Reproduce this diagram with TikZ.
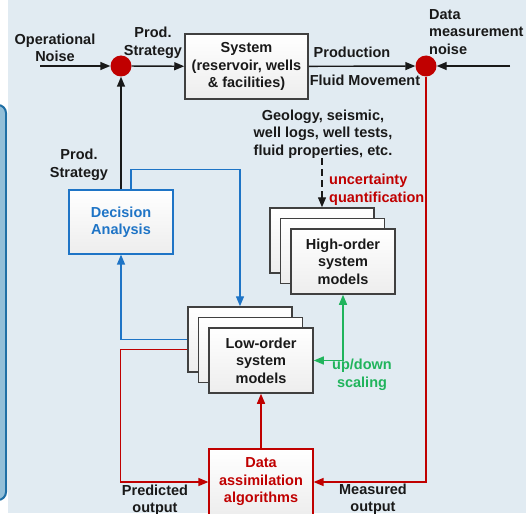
\documentclass[tikz,border=0pt]{standalone}
\usepackage{fontspec}
\setmainfont{Liberation Sans}
\usetikzlibrary{arrows.meta}
\definecolor{bgblue}{HTML}{E1EBF2}
\definecolor{barfill}{HTML}{93BFD8}
\definecolor{bardraw}{HTML}{1F6FA5}
\definecolor{dotred}{HTML}{C00000}
\definecolor{dablue}{HTML}{1E74C6}
\definecolor{scgreen}{HTML}{20B45C}
\definecolor{boxgray}{HTML}{404040}

\begin{document}
\begin{tikzpicture}[x=1pt,y=-1pt,
  txt/.style={font=\fontsize{14.5}{17.5}\selectfont\bfseries,align=center,inner sep=0pt,text=black!90},
  box/.style={txt,draw=boxgray,line width=1.5pt,top color=white,bottom color=gray!14,minimum width=104pt,minimum height=65pt},
  sum/.style={circle,fill=dotred,minimum size=21pt,inner sep=0pt},
  tip/.style={-{Triangle[length=10pt,width=8pt]}},
  bk/.style={tip,line width=1.4pt,black!90},
  bl/.style={tip,line width=1.4pt,dablue},
  rd/.style={tip,line width=1.4pt,dotred}]
\useasboundingbox (0,0) rectangle (526,513);
% background
\fill[white] (0,0) rectangle (526,513);
\fill[bgblue] (8,0) rectangle (526,513);
\filldraw[fill=barfill,draw=bardraw,line width=2pt,rounded corners=8pt] (-12,105) rectangle (6,500);
% top row
\node[txt] (opn) at (55,48) {Operational\\Noise};
\coordinate (opin) at (40,66);
\node[sum] (s1) at (121,66) {};
\node[txt] (ps1) at (153,43) {Prod.\\Strategy};
\node[box,minimum width=123pt] (sys) at (246.5,66.5) {System\\(reservoir, wells\\\& facilities)};
\node[sum] (s2) at (426,66) {};
\node[txt] (prod) at (352,52) {Production};
\node[txt] (flu) at (365,80) {Fluid Movement};
\node[txt,align=left,anchor=west] (dmn) at (429,32) {Data\\measurement\\noise};
\coordinate (dmin) at (510,66);
\draw[bk] (opin) -- (s1);
\draw[bk] (s1) -- (sys);
\draw[bk] (sys) -- (s2);
\draw[bk] (dmin) -- (s2);
% decision analysis
\node[txt] (ps2) at (79,165) {Prod.\\Strategy};
\node[box,draw=dablue,line width=1.2pt,text=dablue,minimum height=64pt] (dec) at (121,222) {Decision\\Analysis};
\draw[bk] (dec) -- (s1);
% high-order models
\node[txt] (geo) at (323,134) {Geology, seismic,\\well logs, well tests,\\fluid properties, etc.};
\node[txt,align=left,anchor=west,text=dotred] (uq) at (329,190) {uncertainty\\quantification};
\node[box] (hi3) at (322,240.5) {};
\node[box] (hi2) at (332.5,251) {};
\node[box] (hi1) at (343,261.5) {High-order\\system\\models};
\draw[bk,dash pattern=on 7pt off 4pt] (hi3.north |- geo.south) -- (hi3.north);
% low-order models
\node[box] (lo3) at (240,339.5) {};
\node[box] (lo2) at (250.5,350) {};
\node[box] (lo1) at (261,360.5) {Low-order\\system\\models};
\draw[bl] ([xshift=10pt]dec.north) -- ++(0,-20) -| (lo3.north);
\draw[bl] (lo3.west) -| (dec.south);
\draw[{Triangle[length=10pt,width=8pt]}-{Triangle[length=10pt,width=8pt]},line width=1.4pt,scgreen] (lo1.east) -| (hi1.south);
\node[txt,text=scgreen] (ud) at (362,375) {up/down\\scaling};
% data assimilation
\node[box,draw=dotred,line width=1.2pt,text=dotred,minimum height=66pt] (da) at (261,482) {Data\\assimilation\\algorithms};
\draw[rd] (da) -- (lo1);
\draw[rd] ([yshift=-10pt]lo3.west) -- ++(-67,0) |- (da.west);
\draw[rd] (s2) |- (da.east);
\node[txt] (po) at (155,500) {Predicted\\output};
\node[txt] (mo) at (373,499) {Measured\\output};
\end{tikzpicture}
\end{document}
